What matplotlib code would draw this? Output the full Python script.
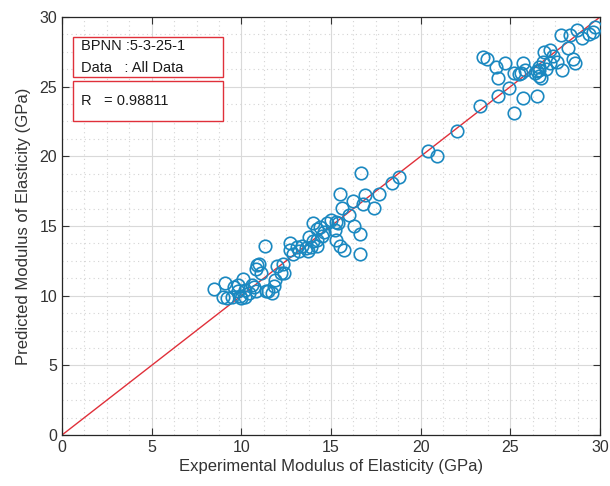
import matplotlib
matplotlib.use("Agg")
import matplotlib.pyplot as plt
from matplotlib.patches import Rectangle
from matplotlib.ticker import MultipleLocator
import numpy as np

plt.rcParams['font.family'] = ['Liberation Sans', 'DejaVu Sans']

experimental = [
    8.5, 9.1, 9.2, 9.0, 9.5, 9.6, 9.8, 9.8, 9.9, 10.0, 10.1, 10.2, 10.2, 10.4, 10.6, 10.7,
    10.8, 10.8, 10.9, 11.0, 11.1, 11.3, 11.4, 11.5, 11.7, 11.8, 11.9, 12.0, 12.2, 12.3, 12.4,
    12.7, 12.7, 12.9, 13.1, 13.2, 13.6, 13.7, 13.8, 14.0, 14.0, 14.2, 14.2, 14.2, 14.5, 14.6,
    14.8, 15.0, 15.2, 15.3, 15.3, 15.4, 15.5, 15.5, 15.6, 15.7, 16.0, 16.2, 16.3, 16.6, 16.6,
    16.7, 16.8, 16.9, 17.4, 17.7, 18.4, 18.8, 13.4, 13.9, 14.4,
    20.4, 20.9, 22.0, 23.3, 23.5, 23.7, 24.2, 24.3, 24.3, 24.7, 24.9, 25.2, 25.2, 25.6, 25.7,
    25.7, 25.8, 25.5, 26.5, 26.5, 26.6, 26.7, 26.6, 26.8, 26.9, 27.0, 27.2, 27.2, 27.4, 27.6,
    27.9, 28.2, 27.8, 28.3, 28.5, 28.6, 28.7, 29.0, 29.4, 29.6, 29.7, 26.4, 26.6,
]
predicted = [
    10.5, 10.9, 9.8, 9.9, 9.9, 10.6, 10.8, 10.3, 10.0, 9.8, 11.2, 10.4, 9.9, 10.2, 10.8, 10.6,
    10.3, 11.9, 12.2, 12.3, 11.6, 13.6, 10.3, 10.3, 10.2, 10.7, 11.1, 12.1, 11.6, 12.3, 11.6,
    13.8, 13.3, 13.0, 13.5, 13.2, 13.4, 13.2, 14.2, 15.2, 13.9, 14.8, 14.0, 13.6, 14.3, 14.6,
    15.2, 15.4, 14.7, 15.3, 14.0, 15.2, 13.6, 17.3, 16.3, 13.3, 15.8, 16.8, 15.0, 14.4, 13.0,
    18.8, 16.6, 17.2, 16.3, 17.3, 18.1, 18.5, 13.6, 13.5, 14.9,
    20.4, 20.0, 21.8, 23.6, 27.1, 27.0, 26.4, 25.6, 24.3, 26.7, 24.9, 26.0, 23.1, 26.0, 26.7,
    24.2, 26.2, 25.9, 24.3, 26.1, 25.8, 25.6, 26.4, 26.8, 27.5, 26.3, 26.7, 27.6, 27.2, 26.8,
    26.2, 27.8, 28.7, 28.7, 27.0, 26.7, 29.1, 28.5, 28.8, 28.9, 29.3, 26.0, 26.2,
]
fit_line_x = [0, 30]
fit_line_y = [0, 30]
xticks = [0, 5, 10, 15, 20, 25, 30]
yticks = [0, 5, 10, 15, 20, 25, 30]

W, H = 610, 486
fig = plt.figure(figsize=(W / 100, H / 100), dpi=100)
ax = fig.add_axes([62 / W, 1 - 435 / H, 538 / W, 418 / H])

ax.set_xlim(0, 30)
ax.set_ylim(0, 30)
ax.set_xticks(xticks)
ax.set_yticks(yticks)
ax.xaxis.set_minor_locator(MultipleLocator(1.25))
ax.yaxis.set_minor_locator(MultipleLocator(1.25))
ax.grid(True, which='major', color='#d9d9d9', linewidth=0.8, linestyle='-')
ax.grid(True, which='minor', color='#d4d4d4', linewidth=0.8, linestyle=(0, (1, 3)))
ax.set_axisbelow(True)
ax.tick_params(which='major', direction='in', length=5, top=True, right=True,
               labelsize=11.5, colors='#333333', width=0.8)
ax.tick_params(which='minor', length=0, top=True, right=True)
for s in ax.spines.values():
    s.set_color('#262626')
    s.set_linewidth(0.9)

ax.plot(fit_line_x, fit_line_y, color='#e0303a', linewidth=1.0, zorder=2)
ax.plot(experimental, predicted, linestyle='none', marker='o', markersize=9,
        markerfacecolor='none', markeredgecolor='#1a88c0', markeredgewidth=1.2, zorder=3)

ax.set_xlabel('Experimental Modulus of Elasticity (GPa)', fontsize=12, color='#333333', labelpad=3)
ax.set_ylabel('Predicted Modulus of Elasticity (GPa)', fontsize=12, color='#333333', labelpad=6)

def box(x0, y0, x1, y1):
    r = Rectangle((x0 / W, 1 - y1 / H), (x1 - x0) / W, (y1 - y0) / H,
                  transform=fig.transFigure, facecolor='white', edgecolor='#e0303a',
                  linewidth=1.0, zorder=5)
    fig.add_artist(r)

box(73, 37, 223, 77)
box(73, 81, 223, 121)
fig.text(81 / W, 1 - 46 / H, 'BPNN :5-3-25-1', fontsize=10.5, va='center', color='#1a1a1a', zorder=6)
fig.text(81 / W, 1 - 68 / H, 'Data   : All Data', fontsize=10.5, va='center', color='#1a1a1a', zorder=6)
fig.text(81 / W, 1 - 101 / H, 'R   = 0.98811', fontsize=10.5, va='center', color='#1a1a1a', zorder=6)

fig.savefig('out.png', dpi=100, facecolor='white')
